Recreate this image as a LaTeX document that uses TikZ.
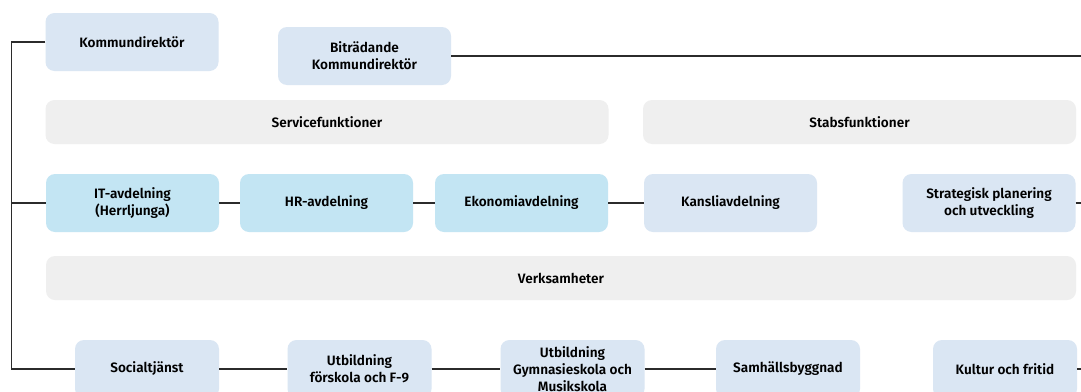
\documentclass[tikz,border=0pt]{standalone}
\usepackage{fontspec}
\setmainfont{Fira Sans}[BoldFont={Fira Sans SemiBold}]
\usetikzlibrary{positioning}

\definecolor{boxblue}{HTML}{DAE6F3}
\definecolor{boxcyan}{HTML}{C3E5F3}
\definecolor{bandgrey}{HTML}{EFEFEF}
\definecolor{linegrey}{HTML}{2B2B2B}

\begin{document}
\begin{tikzpicture} [node distance = 200pt, on grid,
    unit/.style = {rectangle, rounded corners = 9pt, fill = boxblue, minimum width = 173pt,
        minimum height = 58pt, inner sep = 0pt, align = center,
        font = \bfseries\fontsize{13.6}{17}\selectfont},
    avd/.style = {unit, fill = boxcyan},
    verk/.style = {unit, minimum width = 144pt},
    band/.style = {unit, fill = bandgrey, minimum height = 44pt},
    link/.style = {draw = linegrey, line width = 1.3pt}]
    \path[use as bounding box, fill = white] (0,0) rectangle (1081pt,-391pt);

    \node (kd) [unit] at (132pt,-42pt) {Kommundirektör};
    \node (bkd) [unit] at (364.5pt,-56pt) {Biträdande\\Kommundirektör};

    \node (service) [band, minimum width = 563pt] at (327pt,-122pt) {Servicefunktioner};
    \node (stab) [band, minimum width = 433pt] at (859.5pt,-122pt) {Stabsfunktioner};

    \node (it) [avd] at (132.5pt,-203pt) {IT-avdelning\\(Herrljunga)};
    \node (hr) [avd, right = 194pt of it] {HR-avdelning};
    \node (eko) [avd, right = 195pt of hr] {Ekonomiavdelning};
    \node (kansli) [unit, right = 209pt of eko] {Kansliavdelning};
    \node (strat) [unit, right = 258.5pt of kansli] {Strategisk planering\\och utveckling};

    \node (verksamhet) [band, minimum width = 1030pt] at (561pt,-278pt) {Verksamheter};

    \node (social) [verk] at (147pt,-369pt) {Socialtjänst};
    \node (utbf9) [verk, right = 212.5pt of social] {Utbildning\\förskola och F-9};
    \node (gymn) [verk, right = 213pt of utbf9] {Utbildning\\Gymnasieskola och\\Musikskola};
    \node (samh) [verk, right = 215.5pt of gymn] {Samhällsbyggnad};
    \node (kultur) [verk, right = 217pt of samh] {Kultur och fritid};

    % left trunk and right edge
    \coordinate (trunk) at (11.5pt,0pt);
    \coordinate (edge) at (1081pt,0pt);

    \draw[link] (kd.west) -- (kd.west -| trunk) |- (social.west);
    \draw[link] (it.west) -- (it.west -| trunk);
    \draw[link, line width = 2.2pt] (bkd.east) -- (bkd.east -| edge);
    \draw[link] (strat.east) -- (strat.east -| edge);
    \draw[link] (kultur.east) -- (kultur.east -| edge);

    \path[link] (it) edge (hr);
    \path[link] (hr) edge (eko);
    \path[link] (eko) edge (kansli);
    \path[link] (social) edge (utbf9);
    \path[link] (utbf9) edge (gymn);
    \path[link] (gymn) edge (samh);
\end{tikzpicture}
\end{document}
